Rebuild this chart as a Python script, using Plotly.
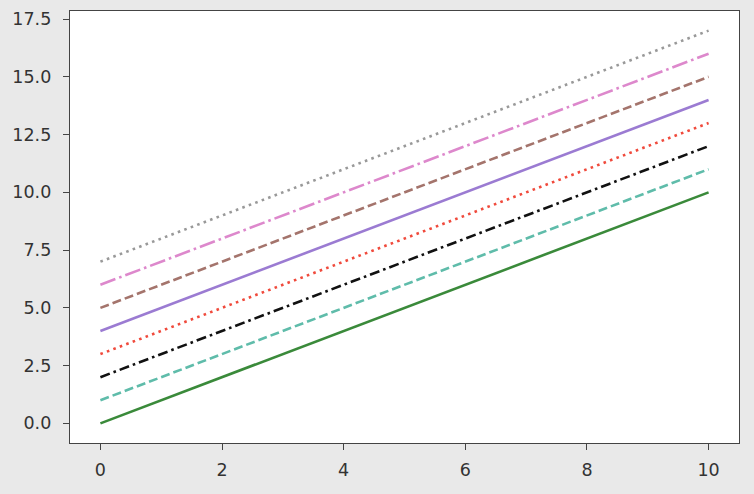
import plotly.graph_objects as go

x_vals = [0, 1, 2, 3, 4, 5, 6, 7, 8, 9, 10]
offsets = [0, 1, 2, 3, 4, 5, 6, 7]
colors = ['#3a8a3a', '#5fbcaa', '#111111', '#f04a3c',
          '#9b7bd2', '#a4746c', '#dd88cc', '#999999']
dashes = ['solid', '9px,4px', '10px,4px,2.6px,4px', '2.6px,4.3px',
          'solid', '9px,4px', '16px,4px,2.6px,4px', '2.6px,4.3px']

fig = go.Figure()
for k, c, d in zip(offsets, colors, dashes):
    fig.add_trace(go.Scatter(x=x_vals, y=[v + k for v in x_vals], mode='lines',
                             line=dict(color=c, width=2.6, dash=d), showlegend=False))

axis_style = dict(showgrid=False, zeroline=False, showline=True, mirror=True,
                  linecolor='#444444', linewidth=1.4, ticks='outside', ticklen=6,
                  tickwidth=1.4, tickcolor='#444444',
                  tickfont=dict(size=17.5, color='#333333'))
fig.update_xaxes(range=[-0.5, 10.5], tickvals=[0, 2, 4, 6, 8, 10],
                 ticklabelstandoff=5, **axis_style)
fig.update_yaxes(range=[-0.85, 17.85], tickvals=[0, 2.5, 5, 7.5, 10, 12.5, 15, 17.5],
                 tickformat='.1f', ticklabelstandoff=8, **axis_style)
fig.update_layout(width=754, height=494, paper_bgcolor='#e9e9e9', plot_bgcolor='white',
                  margin=dict(l=70, r=15, t=9, b=51),
                  font=dict(family='DejaVu Sans'))
# drop the default page margin so the figure sits at the window corner
fig.write_html("out.html", config={'displayModeBar': False},
               post_script="document.body.style.margin='0';")
